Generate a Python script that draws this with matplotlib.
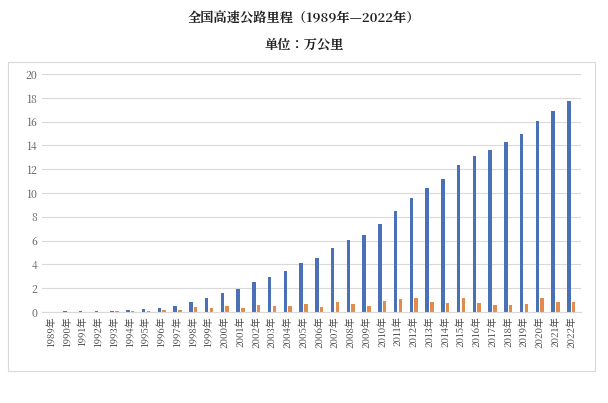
import matplotlib.pyplot as plt
import numpy as np
from matplotlib.patches import Rectangle
from matplotlib import font_manager

# pick whichever CJK font is actually registered
cjk = [f.name for f in font_manager.fontManager.ttflist if 'CJK' in f.name]
plt.rcParams['font.family'] = (['Noto Sans CJK SC'] if 'Noto Sans CJK SC' in cjk else cjk[:1]) + ['DejaVu Sans']

years = [f'{y}年' for y in range(1989, 2023)]
total = [0.03, 0.05, 0.06, 0.07, 0.11, 0.16, 0.21, 0.34, 0.48, 0.87, 1.16, 1.63,
         1.94, 2.51, 2.97, 3.43, 4.10, 4.53, 5.39, 6.03, 6.51, 7.41, 8.49, 9.62,
         10.44, 11.19, 12.35, 13.10, 13.65, 14.26, 14.96, 16.10, 16.91, 17.73]
added = [0.01, 0.02, 0.01, 0.01, 0.04, 0.05, 0.05, 0.13, 0.14, 0.39, 0.29, 0.47,
         0.31, 0.57, 0.46, 0.46, 0.67, 0.43, 0.86, 0.64, 0.48, 0.90, 1.08, 1.13,
         0.82, 0.75, 1.16, 0.75, 0.55, 0.61, 0.70, 1.14, 0.81, 0.82]

fig = plt.figure(figsize=(6.08, 4.03), dpi=100)
fig.patches.append(Rectangle((0.013, 0.08), 0.965, 0.765, transform=fig.transFigure,
                             fill=False, edgecolor='#d9d9d9', linewidth=0.8))
ax = fig.add_axes([0.069, 0.226, 0.886, 0.59])

x = np.arange(len(years))
w = 0.22
ax.bar(x - w / 2 - 0.04, total, w, color='#4a70b5')
ax.bar(x + w / 2 + 0.04, added, w, color='#e08c4e')

ax.set_xlim(-0.6, len(years) - 0.4)
ax.set_ylim(0, 20)
ax.set_yticks(range(0, 21, 2))
ax.set_xticks(x)
ax.set_xticklabels(years, rotation=90, fontsize=7, color='#404040')
ax.tick_params(axis='y', labelsize=7.5, colors='#595959', length=0)
ax.tick_params(axis='x', length=0, pad=3)
ax.grid(axis='y', color='#d9d9d9', linewidth=0.8)
ax.set_axisbelow(True)
for s in ['top', 'right', 'left']:
    ax.spines[s].set_visible(False)
ax.spines['bottom'].set_color('#d9d9d9')

fig.text(0.5, 0.955, '全国高速公路里程（1989年—2022年）', ha='center', va='center',
         fontsize=9.5, fontweight='bold', color='#222222')
fig.text(0.5, 0.888, '单位：万公里', ha='center', va='center',
         fontsize=9.5, fontweight='bold', color='#222222')

fig.savefig('out.png')
